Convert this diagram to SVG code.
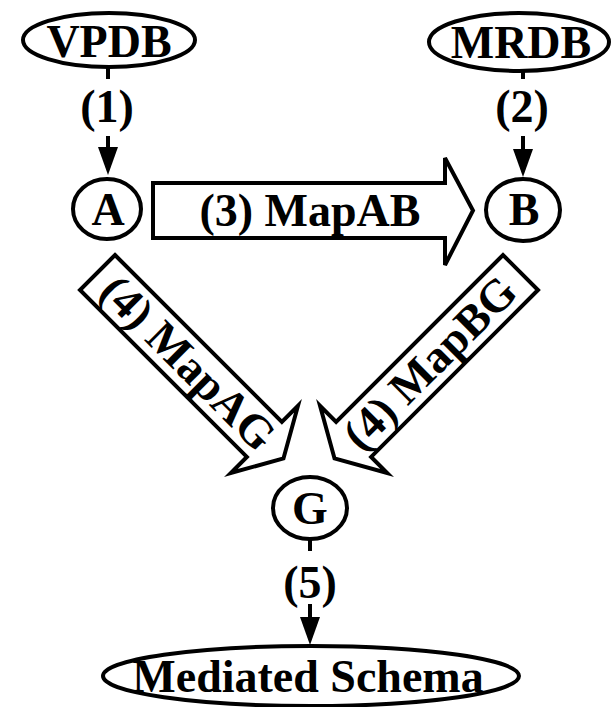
<svg xmlns="http://www.w3.org/2000/svg" width="612" height="707" viewBox="0 0 612 707">
<style>
.n{fill:#fff;stroke:#000;stroke-width:4}
.t{font-family:"Liberation Serif","Times New Roman",serif;font-weight:bold;font-size:46px;fill:#000;text-anchor:middle}
.l{stroke:#000;stroke-width:4;fill:none}
.big{fill:#fff;stroke:#000;stroke-width:4;stroke-linejoin:miter}
</style>
<defs>
<marker id="ah" markerUnits="userSpaceOnUse" markerWidth="30" markerHeight="22" refX="0" refY="10" orient="auto" overflow="visible">
<path d="M0,0 L28,10 L0,20 Z" fill="#000"/>
</marker>
</defs>
<g id="connectors">
<line class="l" x1="108" y1="68" x2="108" y2="79"/>
<line class="l" x1="108" y1="136" x2="108" y2="147" marker-end="url(#ah)"/>
<text class="t" x="107" y="122">(1)</text>
<line class="l" x1="523" y1="72" x2="523" y2="79"/>
<line class="l" x1="523" y1="136" x2="523" y2="149" marker-end="url(#ah)"/>
<text class="t" x="522" y="122">(2)</text>
<line class="l" x1="310" y1="540" x2="310" y2="551"/>
<line class="l" x1="310" y1="604" x2="310" y2="617" marker-end="url(#ah)"/>
<text class="t" x="310" y="598">(5)</text>
<g id="mapAB">
<path class="big" d="M153,183 H445 V158 L473,210.5 L445,265 V238 H153 Z"/>
<text class="t" x="310" y="226">(3) MapAB</text>
</g>
<g id="mapAG">
<path class="big" transform="translate(97.5,272.5) rotate(45)" d="M0,-24.75 H236 V-47.5 L263,0 L236,47.5 V24.75 H0 Z"/>
<text class="t" transform="translate(188,363) rotate(45)" x="0" y="15">(4) MapAG</text>
</g>
<g id="mapBG">
<path class="big" transform="translate(520.5,272.5) rotate(135)" d="M0,-24.75 H236 V-47.5 L263,0 L236,47.5 V24.75 H0 Z"/>
<text class="t" transform="translate(430,363) rotate(-45)" x="0" y="15">(4) MapBG</text>
</g>
</g>
<g id="VPDB">
<ellipse class="n" cx="109" cy="40" rx="86" ry="27"/>
<text class="t" x="109" y="57">VPDB</text>
</g>
<g id="MRDB">
<ellipse class="n" cx="519" cy="42" rx="90" ry="29"/>
<text class="t" x="521" y="58">MRDB</text>
</g>
<g id="A">
<ellipse class="n" cx="107" cy="209" rx="34" ry="30"/>
<text class="t" x="108" y="225">A</text>
</g>
<g id="B">
<ellipse class="n" cx="523" cy="210" rx="37" ry="31"/>
<text class="t" x="524" y="225">B</text>
</g>
<g id="G">
<ellipse class="n" cx="310" cy="508" rx="37" ry="31"/>
<text class="t" x="310" y="524">G</text>
</g>
<g id="MediatedSchema">
<ellipse class="n" cx="311" cy="676" rx="208" ry="30"/>
<text class="t" x="308" y="692">Mediated Schema</text>
</g>
</svg>
